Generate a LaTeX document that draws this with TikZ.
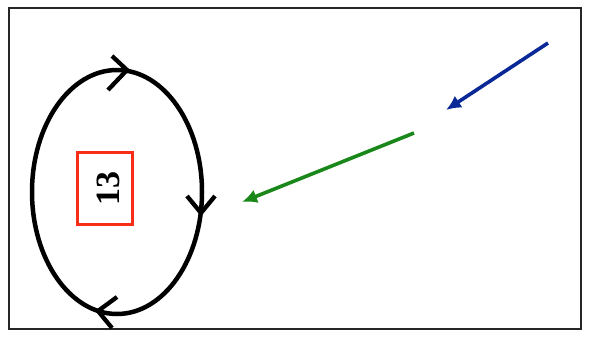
\documentclass[tikz,border=0pt]{standalone}
\usepackage{fontspec}
\setmainfont{Liberation Serif}
\usetikzlibrary{arrows.meta}
\definecolor{myblue}{RGB}{10,40,150}
\definecolor{mygreen}{RGB}{25,135,25}
\definecolor{myred}{RGB}{250,45,25}
\tikzset{
  loopline/.style={line width=4.5pt, black, line cap=round, line join=miter},
  chev/.style={line width=4.3pt, black, line cap=butt, line join=miter},
  flow/.style={line width=3.6pt, -{Latex[length=15pt,width=14pt]}},
  frame/.style={line width=1.8pt, black!85}
}
\begin{document}
\begin{tikzpicture}[x=1pt,y=-1pt]
\useasboundingbox (0,0) rectangle (589,338);
\draw[frame] (9,8) rectangle (581,329);
% loop
\draw[loopline] (117,192) ellipse [x radius=85pt, y radius=122pt];
% chevrons
\coordinate (tA) at (127,70);
\coordinate (tB) at (201,213);
\coordinate (tC) at (98,311);
\draw[chev] (108,90) -- (tA) -- (112,56);
\draw[chev] (187,196) -- (tB) -- (215,196);
\draw[chev] (117,297) -- (tC) -- (112,328);
% box
\node[draw=myred, line width=3pt, minimum width=55pt, minimum height=72pt, inner sep=0pt] (box) at (105,188.5) {};
\node[font=\bfseries\fontsize{34}{34}\selectfont, rotate=90, inner sep=0pt] (num) at (108,188.5) {13};
% arrows
\coordinate (bS) at (548,43);
\coordinate (bE) at (446,110);
\coordinate (gS) at (414,133);
\coordinate (gE) at (242,202);
\draw[flow, myblue] (bS) -- (bE);
\draw[flow, mygreen] (gS) -- (gE);
\end{tikzpicture}
\end{document}
